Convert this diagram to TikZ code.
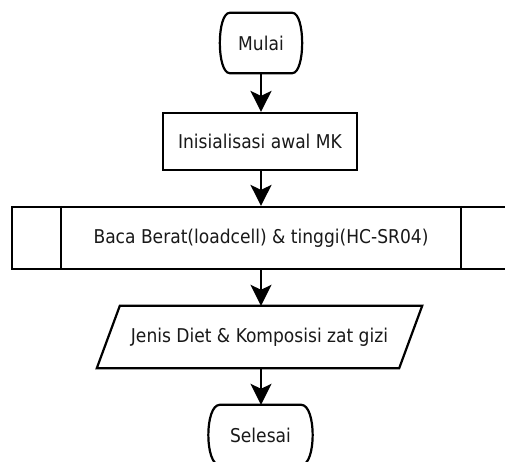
\documentclass[tikz,border=0pt]{standalone}
\usepackage{fontspec}
\setmainfont{DejaVu Sans Condensed}
\usetikzlibrary{arrows.meta}
\begin{document}
\begin{tikzpicture}[x=1pt,y=1pt,
  every node/.style={font=\fontsize{19}{22}\selectfont, text=black!90, inner sep=0pt},
  shapeline/.style={line width=2.2pt, line join=miter},
  flow/.style={line width=2.2pt, -{Stealth[length=21pt,width=21pt,inset=5pt]}},
  boxnode/.style={draw, line width=2.2pt, minimum width=#1, minimum height=57pt},
  ghost/.style={minimum width=#1, minimum height=60pt}
]
\useasboundingbox (0,0) rectangle (505,-462);
\clip (0,0) rectangle (505,-462);
\fill[white] (0,0) rectangle (505,-462);

% Mulai terminal
\node[ghost=82pt] (mulai) at (261,-43) {Mulai};
\draw[shapeline] ([xshift=10]mulai.north west) -- ([xshift=-10]mulai.north east)
  .. controls ([xshift=3.3]mulai.north east) and ([xshift=3.3]mulai.south east) .. ([xshift=-10]mulai.south east)
  -- ([xshift=10]mulai.south west)
  .. controls ([xshift=-3.3]mulai.south west) and ([xshift=-3.3]mulai.north west) .. ([xshift=10]mulai.north west) -- cycle;

% Inisialisasi
\node[boxnode=194pt] (init) at (260,-141.5) {Inisialisasi awal MK};

% Baca (predefined process)
\node[draw, line width=2.2pt, minimum width=498pt, minimum height=62pt] (baca) at (261,-238) {Baca Berat(loadcell) \& tinggi(HC-SR04)};
\draw[shapeline] ([xshift=50]baca.north west) -- ([xshift=50]baca.south west);
\draw[shapeline] ([xshift=-50]baca.north east) -- ([xshift=-50]baca.south east);

% Parallelogram (output)
\node[minimum width=302pt, minimum height=62pt] (io) at (259.5,-337) {Jenis Diet \& Komposisi zat gizi};
\draw[shapeline] ([xshift=11.5]io.north west) -- ([xshift=11.5]io.north east)
  -- ([xshift=-11.5]io.south east) -- ([xshift=-11.5]io.south west) -- cycle;

% Selesai terminal
\node[ghost=105pt] (selesai) at (260.5,-435) {Selesai};
\draw[shapeline] ([xshift=12]selesai.north west) -- ([xshift=-12]selesai.north east)
  .. controls ([xshift=3.3]selesai.north east) and ([xshift=3.3]selesai.south east) .. ([xshift=-12]selesai.south east)
  -- ([xshift=12]selesai.south west)
  .. controls ([xshift=-3.3]selesai.south west) and ([xshift=-3.3]selesai.north west) .. ([xshift=12]selesai.north west) -- cycle;

% Connectors
\draw[flow] (mulai.south -| 261,0) -- (init.north -| 261,0);
\draw[flow] (init.south -| 261,0) -- (baca.north -| 261,0);
\draw[flow] (baca.south -| 261,0) -- (io.north -| 261,0);
\draw[flow] (io.south -| 261,0) -- (selesai.north -| 261,0);
\end{tikzpicture}
\end{document}
